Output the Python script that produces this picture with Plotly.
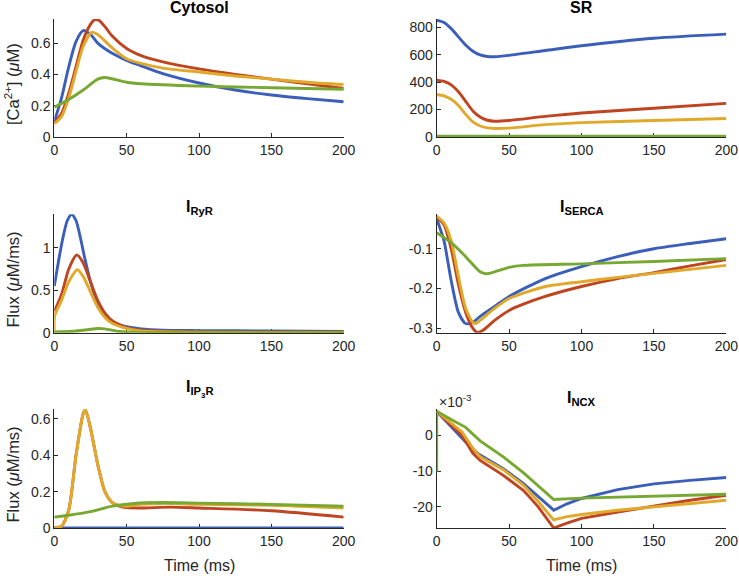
import plotly.graph_objects as go

W, H = 739, 576

# ---------------- data ----------------
# Cytosol [Ca2+] (uM)
cyt_blue_t = [0, 5, 10, 15, 20, 25, 30, 40, 50, 60, 75, 100, 125, 150, 175, 200]
cyt_blue_y = [0.098, 0.25, 0.45, 0.61, 0.68, 0.655, 0.6, 0.535, 0.49, 0.455, 0.405, 0.345, 0.3, 0.268, 0.245, 0.225]
cyt_red_t = [0, 5, 10, 15, 20, 25, 28, 31, 35, 40, 50, 60, 75, 100, 125, 150, 175, 200]
cyt_red_y = [0.09, 0.15, 0.28, 0.45, 0.62, 0.72, 0.75, 0.745, 0.705, 0.645, 0.565, 0.52, 0.48, 0.435, 0.4, 0.37, 0.34, 0.31]
cyt_yel_t = [0, 5, 10, 15, 20, 26, 30, 40, 50, 60, 75, 100, 125, 150, 175, 200]
cyt_yel_y = [0.085, 0.13, 0.25, 0.42, 0.58, 0.67, 0.655, 0.57, 0.5, 0.47, 0.44, 0.415, 0.39, 0.37, 0.35, 0.335]
cyt_grn_t = [0, 10, 20, 30, 35, 40, 50, 60, 100, 150, 200]
cyt_grn_y = [0.19, 0.24, 0.30, 0.37, 0.38, 0.372, 0.35, 0.34, 0.325, 0.315, 0.305]

# SR [Ca2+] (uM)
sr_t = [0, 5, 10, 15, 20, 25, 30, 35, 40, 50, 75, 100, 150, 200]
sr_blue = [850, 835, 790, 730, 670, 625, 598, 587, 585, 595, 630, 665, 720, 750]
sr_red = [415, 405, 380, 330, 260, 190, 145, 122, 115, 120, 150, 175, 210, 245]
sr_yel = [310, 300, 275, 230, 165, 110, 80, 66, 62, 65, 90, 105, 120, 135]
sr_grn = [5, 5, 5, 5, 5, 5, 5, 5, 5, 5, 5, 5, 5, 5]

# I_RyR flux (uM/ms)
ryr_blue_t = [0, 3, 6, 9, 12, 15, 18, 21, 25, 30, 35, 40, 50, 60, 75, 100, 150, 200]
ryr_blue_y = [0.55, 0.85, 1.12, 1.32, 1.39, 1.32, 1.12, 0.88, 0.6, 0.35, 0.2, 0.13, 0.07, 0.045, 0.03, 0.025, 0.02, 0.015]
ryr_red_t = [0, 5, 10, 15.5, 20, 25, 30, 35, 40, 50, 60, 100, 200]
ryr_red_y = [0.25, 0.45, 0.75, 0.915, 0.82, 0.6, 0.38, 0.23, 0.14, 0.06, 0.03, 0.01, 0.01]
ryr_yel_t = [0, 0.3, 5, 10, 16, 20, 25, 30, 35, 40, 50, 60, 100, 200]
ryr_yel_y = [0.0, 0.2, 0.38, 0.6, 0.74, 0.66, 0.48, 0.3, 0.18, 0.11, 0.05, 0.02, 0.005, 0.003]
ryr_grn_t = [0, 15, 25, 30, 35, 45, 55, 100, 200]
ryr_grn_y = [0.01, 0.02, 0.04, 0.05, 0.045, 0.015, 0.003, 0.0, 0.0]

# I_SERCA flux
ser_blue_t = [0, 5, 10, 15, 20, 25, 30, 40, 50, 75, 100, 125, 150, 175, 200]
ser_blue_y = [-0.025, -0.08, -0.18, -0.26, -0.288, -0.285, -0.27, -0.245, -0.22, -0.175, -0.145, -0.12, -0.1, -0.087, -0.075]
ser_red_t = [0, 5, 10, 15, 20, 25, 28, 32, 40, 50, 75, 100, 125, 150, 175, 200]
ser_red_y = [-0.02, -0.04, -0.1, -0.19, -0.26, -0.3, -0.31, -0.305, -0.28, -0.255, -0.22, -0.195, -0.175, -0.16, -0.143, -0.127]
ser_yel_t = [0, 5, 10, 15, 20, 25, 27, 30, 40, 50, 75, 100, 125, 150, 175, 200]
ser_yel_y = [-0.018, -0.035, -0.08, -0.17, -0.25, -0.285, -0.288, -0.28, -0.25, -0.225, -0.195, -0.183, -0.172, -0.162, -0.152, -0.142]
ser_grn_t = [0, 10, 20, 30, 34, 40, 50, 60, 100, 150, 200]
ser_grn_y = [-0.06, -0.085, -0.12, -0.158, -0.163, -0.158, -0.147, -0.142, -0.138, -0.132, -0.125]

# I_IP3R flux
ip3_t = [0, 5, 10, 15, 20, 21.5, 25, 30, 35, 40, 45, 50, 60, 80, 100, 150, 200]
ip3_blue = [0] * 17
ip3_red = [0, 0.01, 0.1, 0.4, 0.63, 0.65, 0.55, 0.35, 0.2, 0.14, 0.12, 0.112, 0.11, 0.115, 0.11, 0.095, 0.06]
ip3_yel = [0, 0.01, 0.1, 0.4, 0.63, 0.65, 0.55, 0.35, 0.2, 0.14, 0.125, 0.12, 0.13, 0.135, 0.13, 0.125, 0.11]
ip3_grn_t = [0, 10, 25, 40, 55, 75, 100, 150, 200]
ip3_grn_y = [0.06, 0.07, 0.09, 0.12, 0.135, 0.14, 0.137, 0.13, 0.12]

# I_NCX flux (x 1e-3)
ncx_t = [0, 10, 17.5, 25, 30, 46, 60, 70, 80.8, 90, 100, 125, 150, 175, 200]
ncx_blue = [6.8, 2.5, -0.8, -4.0, -5.5, -9.3, -13.5, -17, -21, -19.2, -17.7, -15.2, -13.6, -12.6, -11.8]
ncx_red = [6.8, 3.0, 0.0, -5.0, -7.0, -11.2, -15.5, -20, -26, -24.6, -23.3, -21.5, -19.8, -18.2, -16.8]
ncx_yel = [6.8, 3.5, 1.0, -3.6, -6.0, -9.6, -14, -18.5, -23.7, -22.8, -22.2, -21, -20, -19, -18.2]
ncx_grn_t = [0, 0, 10, 20, 30, 46, 60, 70, 80.8, 100, 150, 200]
ncx_grn_y = [-10.2, 6.8, 4.5, 2.3, -1.5, -6.0, -10.5, -14, -18, -17.6, -17, -16.5]

x_ticks = [0, 50, 100, 150, 200]
y_ticks = [[0, 0.2, 0.4, 0.6], [0, 200, 400, 600, 800], [0, 0.5, 1], [-0.3, -0.2, -0.1],
           [0, 0.2, 0.4, 0.6], [-20, -10, 0]]
y_ticktext = [["0", "0.2", "0.4", "0.6"], ["0", "200", "400", "600", "800"], ["0", "0.5", "1"],
              ["-0.3", "-0.2", "-0.1"], ["0", "0.2", "0.4", "0.6"], ["-20", "-10", "0"]]

BLUE, RED, YEL, GRN = "#3b5fb9", "#bf4420", "#e0a92b", "#77a832"

titles = ["<b>Cytosol</b>", "<b>SR</b>",
          "<b>I<sub>RyR</sub></b>", "<b>I<sub>SERCA</sub></b>",
          "<b>I<sub>IP<sub>3</sub>R</sub></b>", "<b>I<sub>NCX</sub></b>"]
# title centre (px from top)
title_y = [8, 8, 207, 207, 389, 398]

# panel geometry in pixels (left, right, top, bottom)
cols = [(54.3, 343.7), (436.7, 726.3)]
rows = [(19.0, 137.0), (214.3, 332.7), (409.0, 528.0)]

fig = go.Figure()
AX = "#262626"
FONT = "Liberation Sans, Arial, Helvetica, sans-serif"

yranges = [[0, 0.754], [0, 860], [0, 1.393], [-0.311, -0.0136], [0, 0.655], [-26.0, 7.45]]

panels = [
    [(cyt_blue_t, cyt_blue_y, BLUE), (cyt_red_t, cyt_red_y, RED), (cyt_yel_t, cyt_yel_y, YEL), (cyt_grn_t, cyt_grn_y, GRN)],
    [(sr_t, sr_blue, BLUE), (sr_t, sr_red, RED), (sr_t, sr_yel, YEL), (sr_t, sr_grn, GRN)],
    [(ryr_blue_t, ryr_blue_y, BLUE), (ryr_red_t, ryr_red_y, RED), (ryr_yel_t, ryr_yel_y, YEL), (ryr_grn_t, ryr_grn_y, GRN)],
    [(ser_blue_t, ser_blue_y, BLUE), (ser_red_t, ser_red_y, RED), (ser_yel_t, ser_yel_y, YEL), (ser_grn_t, ser_grn_y, GRN)],
    [(ip3_t, ip3_blue, BLUE), (ip3_t, ip3_red, RED), (ip3_t, ip3_yel, YEL), (ip3_grn_t, ip3_grn_y, GRN)],
    [(ncx_t, ncx_blue, BLUE), (ncx_t, ncx_red, RED), (ncx_t, ncx_yel, YEL), (ncx_grn_t, ncx_grn_y, GRN)],
]

annotations = []
for i in range(6):
    r, c = divmod(i, 2)
    x0, x1 = cols[c]
    y0, y1 = rows[r]
    xa = "xaxis" if i == 0 else f"xaxis{i+1}"
    ya = "yaxis" if i == 0 else f"yaxis{i+1}"
    xr = "x" if i == 0 else f"x{i+1}"
    yr = "y" if i == 0 else f"y{i+1}"
    shape = "linear" if i == 5 else "spline"
    for (tx, ty, col) in panels[i]:
        fig.add_trace(go.Scatter(x=tx, y=ty, mode="lines", xaxis=xr, yaxis=yr,
                                 line=dict(color=col, width=2.9, shape=shape, smoothing=0.7),
                                 showlegend=False, hoverinfo="skip"))
    common = dict(showline=True, linecolor=AX, linewidth=1, ticks="inside", ticklen=4,
                  tickcolor=AX, tickwidth=1, showgrid=False, zeroline=False, automargin=False,
                  tickfont=dict(family=FONT, size=14, color=AX), layer="below traces")
    fig.update_layout(**{
        xa: dict(domain=[x0 / W, x1 / W], range=[0, 200], anchor=yr,
                 tickvals=x_ticks, ticktext=[str(v) for v in x_ticks], **common),
        ya: dict(domain=[1 - y1 / H, 1 - y0 / H], range=yranges[i], anchor=xr,
                 tickvals=y_ticks[i], ticktext=y_ticktext[i], **common),
    })
    annotations.append(dict(text=titles[i], x=(x0 + x1) / 2 / W, y=1 - title_y[i] / H,
                            xref="paper", yref="paper", xanchor="center", yanchor="middle",
                            showarrow=False,
                            font=dict(family=FONT, size=16, color="black")))

# y-axis labels
ylabels = ["[Ca<sup>2+</sup>] (<i>μ</i>M)", "Flux (<i>μ</i>M/ms)", "Flux (<i>μ</i>M/ms)"]
for r in range(3):
    y0, y1 = rows[r]
    annotations.append(dict(text=ylabels[r], x=12 / W, y=1 - ((y0 + y1) / 2 + 6) / H,
                            xref="paper", yref="paper", xanchor="center", yanchor="middle",
                            textangle=-90, showarrow=False,
                            font=dict(family=FONT, size=16.5, color=AX)))
# x-axis labels
for c in range(2):
    x0, x1 = cols[c]
    annotations.append(dict(text="Time (ms)", x=(x0 + x1) / 2 / W, y=1 - 565 / H,
                            xref="paper", yref="paper", xanchor="center", yanchor="middle",
                            showarrow=False, font=dict(family=FONT, size=16, color=AX)))
# exponent label
annotations.append(dict(text="×10<sup>-3</sup>", x=437 / W, y=1 - 401 / H,
                        xref="paper", yref="paper", xanchor="left", yanchor="middle",
                        showarrow=False, font=dict(family=FONT, size=14, color=AX)))

fig.update_layout(width=W, height=H, margin=dict(l=0, r=0, t=0, b=0),
                  paper_bgcolor="white", plot_bgcolor="white",
                  annotations=annotations, font=dict(family=FONT))
fig.write_html("out.html", config={"displayModeBar": False},
               post_script="document.body.style.margin='0';document.body.style.overflow='hidden';")
